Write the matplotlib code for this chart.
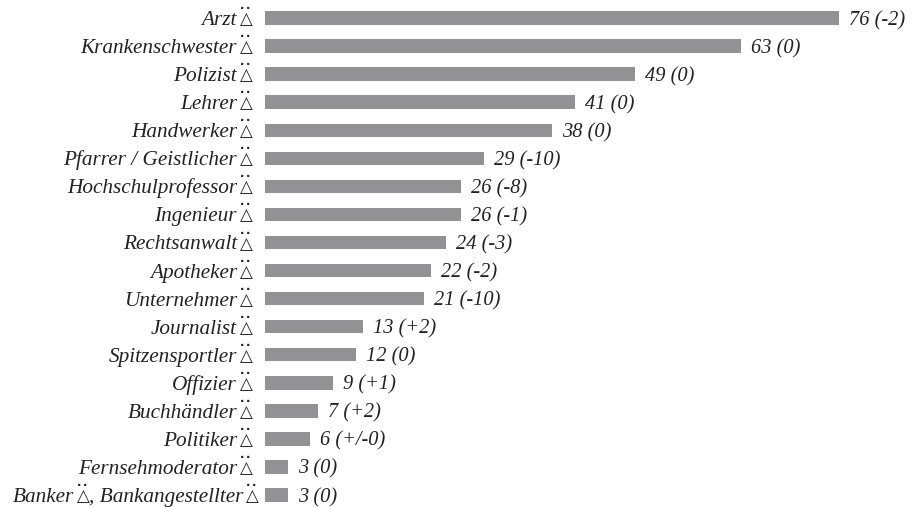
import numpy as np
import matplotlib
matplotlib.use('Agg')
import matplotlib.pyplot as plt

# '*' marks the triangle-with-two-dots sign of the source font
jobs = ['Arzt*', 'Krankenschwester*', 'Polizist*', 'Lehrer*', 'Handwerker*',
        'Pfarrer / Geistlicher*', 'Hochschulprofessor*', 'Ingenieur*',
        'Rechtsanwalt*', 'Apotheker*', 'Unternehmer*', 'Journalist*',
        'Spitzensportler*', 'Offizier*', 'Buchhändler*', 'Politiker*',
        'Fernsehmoderator*', 'Banker*, Bankangestellter*']
values = [76, 63, 49, 41, 38, 29, 26, 26, 24, 22, 21, 13, 12, 9, 7, 6, 3, 3]
changes = ['-2', '0', '0', '0', '0', '-10', '-8', '-1', '-3', '-2', '-10',
           '+2', '0', '+1', '+2', '+/-0', '0', '0']

plt.rcParams['font.family'] = ['Liberation Serif', 'DejaVu Sans']
plt.rcParams['mathtext.fontset'] = 'dejavusans'

fig = plt.figure(figsize=(9.14, 5.07), dpi=100)
ax = fig.add_axes([0, 0, 1, 1])
PX = 0.72  # points per pixel at dpi 100
INK = '#222222'
BASE = -7 * PX  # text baseline below the bar centre


def draw_label(i, label, right):
    '''Draws one row label from right to left, right is in px from the bar start'''
    renderer = fig.canvas.get_renderer()
    pieces = label.replace('*', '|*|').split('|')
    for piece in reversed(pieces):
        if piece == '':
            continue
        if piece == '*':
            ax.annotate(r'$\overset{\mathbf{..}}{\triangle}$', (0, i), xytext=((right - 7) * PX, BASE),
                        textcoords='offset points', ha='center', va='baseline',
                        fontsize=12, color=INK)
            right -= 15
        else:
            t = ax.annotate(piece, (0, i), xytext=(right * PX, BASE), textcoords='offset points',
                            ha='right', va='baseline', fontsize=15.3, style='italic', color=INK)
            right -= t.get_window_extent(renderer).width


y = np.arange(len(jobs))
ax.barh(y, values, height=0.48, color='#929295')

# one data unit is 7.55 px across, one row is 28.06 px down
ax.set_xlim(-265 / 7.55, (914 - 265) / 7.55)
ax.set_ylim((507 - 18) / 28.06, -18 / 28.06)
ax.axis('off')

for i, job in enumerate(jobs):
    draw_label(i, job, -13 if i < len(jobs) - 1 else -7)
    ax.annotate(f'{values[i]} ({changes[i]})', (values[i], i), xytext=(7.2, BASE),
                textcoords='offset points', ha='left', va='baseline',
                fontsize=14.7, style='italic', color=INK)

plt.savefig('out.png', dpi=100)
